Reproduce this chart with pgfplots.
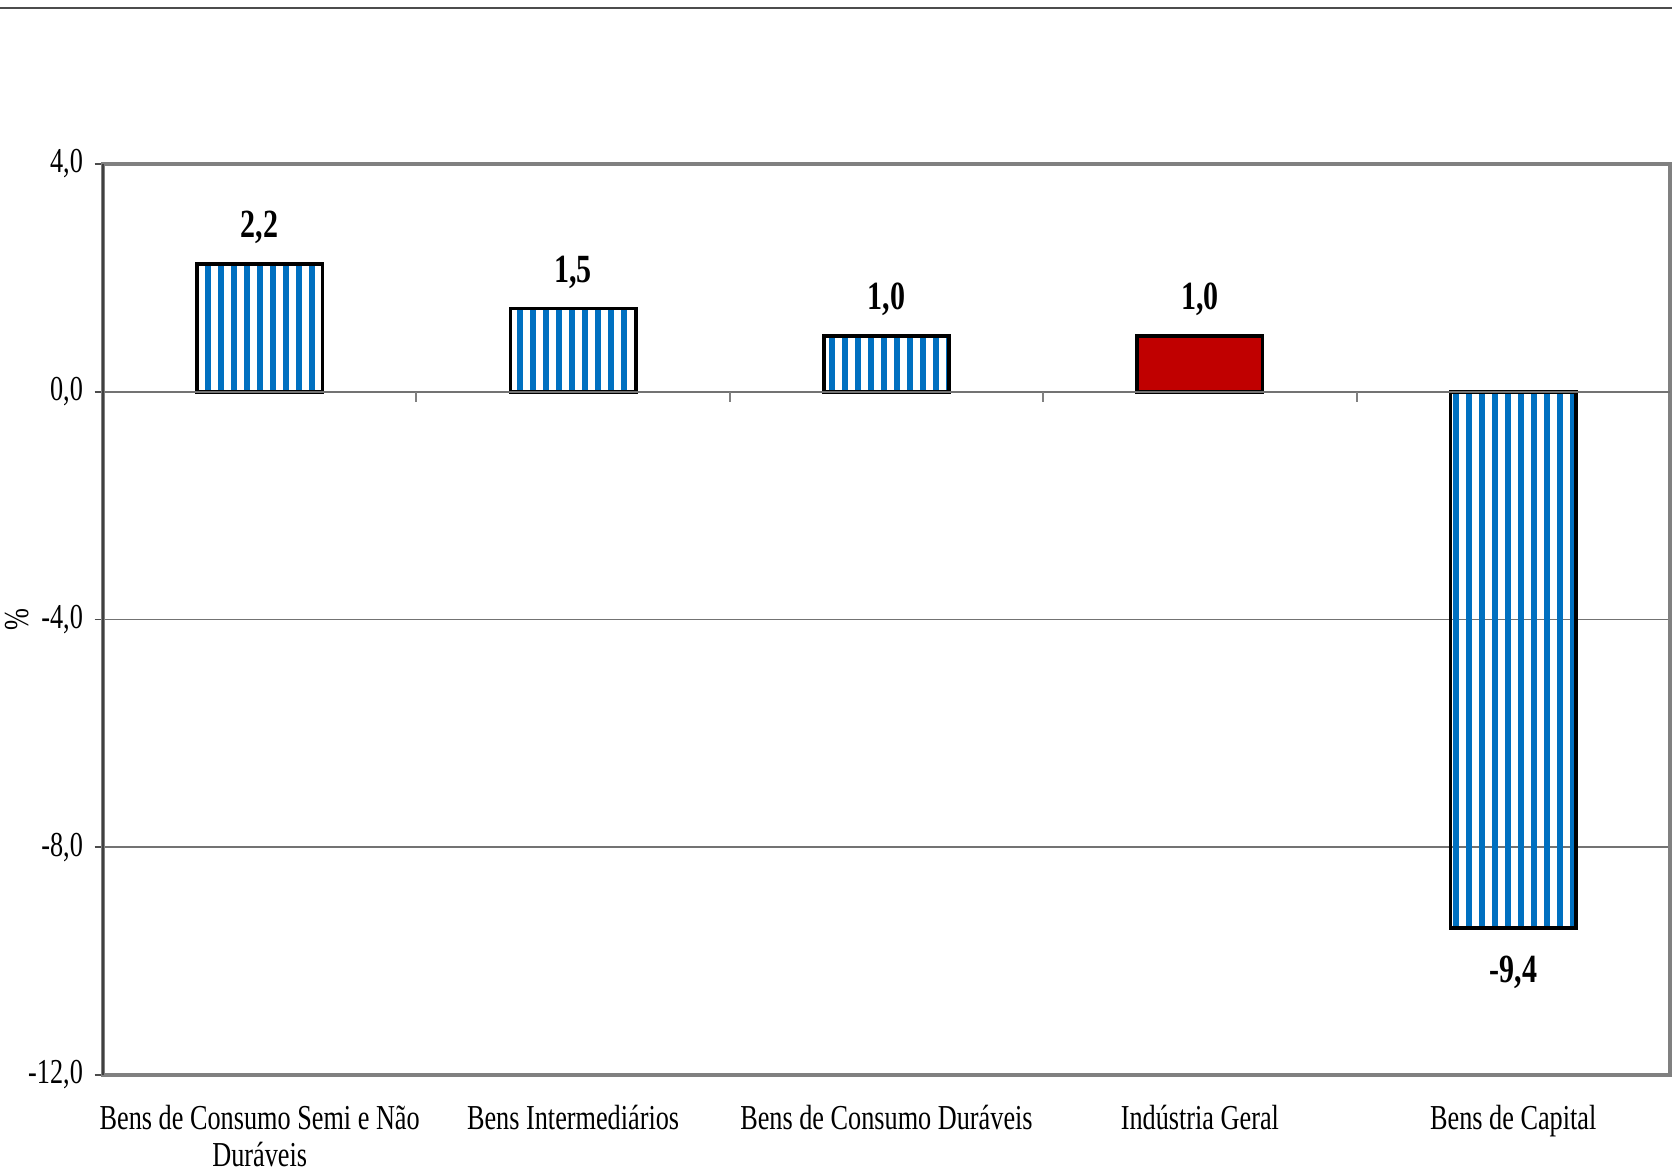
\documentclass[border=0pt]{standalone}
\usepackage{fontspec}
\setmainfont{Liberation Serif}[FakeStretch=0.75]
\usepackage{pgfplots}
\pgfplotsset{compat=1.18}
\usetikzlibrary{patterns.meta}
\definecolor{barblue}{HTML}{0070C0}
\definecolor{barred}{HTML}{C00000}
\definecolor{axgray}{HTML}{808080}
\begin{document}
\begin{tikzpicture}
\useasboundingbox (0,0) rectangle (501.6pt,352.5pt);
\draw[black!70, line width=0.6pt] (0,350.2pt) -- (501.6pt,350.2pt);
\begin{axis}[
  at={(30.9pt,30pt)}, anchor=south west,
  scale only axis,
  width=470.1pt, height=273.3pt,
  ybar, bar width=0.4, bar shift=0pt,
  xmin=-0.5, xmax=4.5,
  ymin=-12, ymax=4,
  ytick={-12,-8,-4,0,4},
  xtick={0,1,2,3,4},
  xticklabels={Bens de Consumo Semi e Não\\Duráveis, Bens Intermediários, Bens de Consumo Duráveis, Indústria Geral, Bens de Capital},
  xticklabel style={align=center, yshift=-3pt},
  x tick style={draw=none},
  y tick style={black!70, line width=0.5pt},
  tick align=outside, major tick length=2.5pt,
  ymajorgrids, grid style={black!55, line width=0.5pt},
  axis line style={axgray, line width=1pt},
  ylabel={\%}, ylabel shift=-7pt,
  ticklabel style={font=\fontsize{10.5}{11.2}\selectfont},
  label style={font=\fontsize{10.5}{11.2}\selectfont},
  /pgf/number format/assume math mode=true,
  yticklabel={\pgfmathprintnumber[fixed, fixed zerofill, precision=1, use comma]{\tick}},
  nodes near coords={\pgfmathprintnumber[fixed, fixed zerofill, precision=1, use comma, assume math mode=true]{\pgfplotspointmeta}},
  every node near coord/.append style={font=\fontsize{12}{14}\selectfont\bfseries, inner sep=6.6pt, yshift=-1.1pt, black},
  clip=false,
]
\addplot[draw=black, line width=1.1pt, pattern={Lines[angle=90, distance=3.9pt, line width=1.9pt]}, pattern color=barblue]
  coordinates {(0,2.24) (1,1.46) (2,0.98) (4,-9.42)};
\addplot[draw=black, line width=1.1pt, fill=barred]
  coordinates {(3,0.98)};
\draw[black!55, line width=0.5pt] (axis cs:-0.5,0) -- (axis cs:4.5,0);
\pgfplotsinvokeforeach{0.5,1.5,2.5,3.5}{
  \draw[axgray, line width=0.6pt] (axis cs:#1,0) -- ([yshift=-3.2pt]axis cs:#1,0);
}
\draw[black!75, line width=0.5pt] (rel axis cs:0,0) -- (rel axis cs:0,1);
\end{axis}
\end{tikzpicture}
\end{document}
